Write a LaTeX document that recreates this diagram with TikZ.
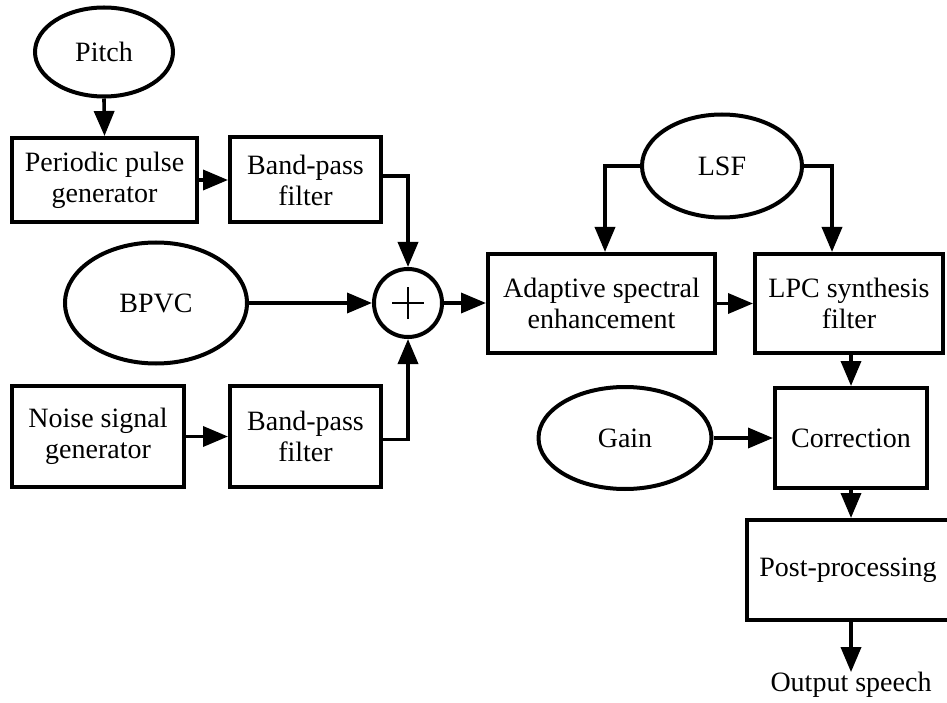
\documentclass[tikz,border=0pt]{standalone}
\usepackage{fontspec}
\setmainfont{Liberation Serif}
\usetikzlibrary{shapes.geometric,arrows.meta}
\begin{document}
\begin{tikzpicture}[x=1pt,y=-1pt,
  every node/.style={font=\fontsize{28}{31}\selectfont, align=center, inner sep=0pt},
  blk/.style={draw, line width=4pt, rectangle},
  ell/.style={draw, line width=4pt, ellipse},
  conn/.style={line width=3.6pt, -{Triangle[length=25pt,width=20pt]}}
]
\useasboundingbox (0,0) rectangle (947,703);
% ellipses
\node[ell, minimum width=138, minimum height=89] (pitch) at (104,52) {Pitch};
\node[ell, minimum width=182, minimum height=121] (bpvc) at (156,303) {BPVC};
\node[ell, minimum width=160, minimum height=103] (lsf) at (722,166) {LSF};
\node[ell, minimum width=173, minimum height=102] (gain) at (625,438) {Gain};
% boxes
\node[blk, minimum width=185, minimum height=84] (ppg) at (104.5,180) {Periodic pulse\\generator};
\node[blk, minimum width=151, minimum height=85] (bpfa) at (305.5,180) {Band-pass\\filter};
\node[blk, minimum width=172, minimum height=101] (nsg) at (98,436.5) {Noise signal\\generator};
\node[blk, minimum width=151, minimum height=101] (bpfb) at (305.5,436.5) {Band-pass\\filter};
\node[blk, minimum width=227, minimum height=99] (ase) at (601.5,303.5) {Adaptive spectral\\enhancement};
\node[blk, minimum width=188, minimum height=99] (lpc) at (849,303.5) {LPC synthesis\\filter};
\node[blk, minimum width=152, minimum height=100] (corr) at (851,438) {Correction};
\node[blk, minimum width=202, minimum height=100] (post) at (848,570) {Post-processing};
\node (out) at (851,685) {Output speech};
% summing junction
\node[draw, circle, line width=4pt, minimum size=68] (sum) at (408,303) {};
\draw[line width=1.6pt] ([xshift=-16pt]sum.center) -- ([xshift=16pt]sum.center)
  ([yshift=-16pt]sum.center) -- ([yshift=16pt]sum.center);
% connectors
\draw[conn] (pitch.south) -- (ppg.north);
\draw[conn] (ppg.east) -- (bpfa.west);
\draw[conn] ([yshift=4pt]bpfa.east) -| (sum.north);
\draw[conn] (bpvc.east) -- (sum.west);
\draw[conn] (nsg.east) -- (bpfb.west);
\draw[conn] ([yshift=-3pt]bpfb.east) -| (sum.south);
\draw[conn] (sum.east) -- (sum.east -| ase.west);
\draw[conn] (lsf.west) -| ([xshift=3.5pt]ase.north);
\draw[conn] (lsf.east) -| ([xshift=-17pt]lpc.north);
\draw[conn] (ase.east) -- (lpc.west);
\draw[conn] (corr.north |- lpc.south) -- (corr.north);
\draw[conn] (gain.east) -- (corr.west);
\draw[conn] (corr.south) -- (corr.south |- post.north);
\draw[conn] (post.south -| out.north) -- (out.north);
\end{tikzpicture}
\end{document}
